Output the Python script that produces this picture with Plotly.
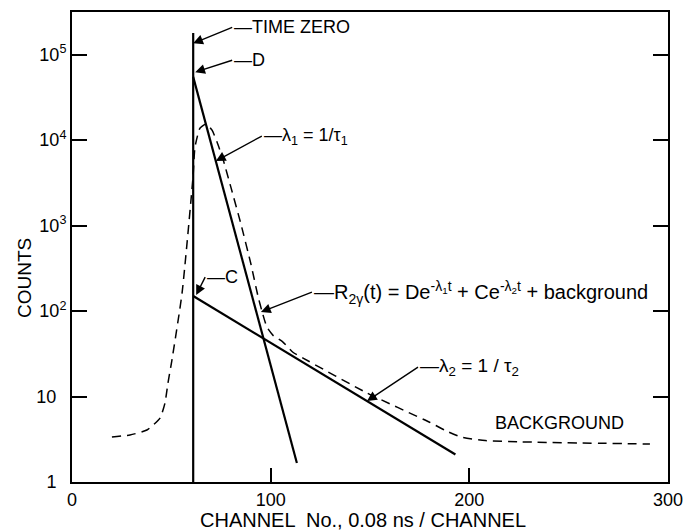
import math
import plotly.graph_objects as go

# ---- data ----
time_zero_ch = [61, 61]
time_zero_counts = [1, 1.8e5]

lam1_ch = [61, 113.2]
lam1_counts = [5.5e4, 1.67]

lam2_ch = [61, 193]
lam2_counts = [150, 2.1]

meas_ch = [20.1, 29.2, 37.7, 44.3, 46.8, 48.3, 50.3, 55.4, 60.9, 61.9, 64.4, 67.6,
           70.5, 73.0, 76.0, 80.0, 85.0, 90.0, 93.6, 95.6, 98.1, 101.2, 106.2, 111.2,
           116.3, 148.5, 180.0, 188.0, 196.0, 208.0, 225.0, 290.9]
meas_counts = [3.36, 3.55, 4.06, 5.6, 8.4, 14.4, 26.7, 162, 3690, 8280, 13800, 15500,
               13100, 9500, 6000, 2800, 1050, 360, 150, 100, 65, 52, 43.4, 33,
               28.2, 11, 5.0, 4.0, 3.35, 3.05, 2.95, 2.78]

x_ticks = [0, 100, 200, 300]
y_ticks = [1, 10, 100, 1e3, 1e4, 1e5]
y_ticktext = ["1\u00a0\u00a0", "10\u00a0\u00a0", "10<sup>2</sup>", "10<sup>3</sup>",
              "10<sup>4</sup>", "10<sup>5</sup>"]

FONT = "Liberation Sans, Arial, sans-serif"

fig = go.Figure()
fig.add_trace(go.Scatter(x=meas_ch, y=meas_counts, mode="lines",
                         line=dict(color="black", width=1.5, dash="9px,6px", shape="spline",
                                   smoothing=0.5),
                         hoverinfo="skip", showlegend=False))
fig.add_trace(go.Scatter(x=time_zero_ch, y=time_zero_counts, mode="lines",
                         line=dict(color="black", width=2.2), showlegend=False))
fig.add_trace(go.Scatter(x=lam1_ch, y=lam1_counts, mode="lines",
                         line=dict(color="black", width=2.2), showlegend=False))
fig.add_trace(go.Scatter(x=lam2_ch, y=lam2_counts, mode="lines",
                         line=dict(color="black", width=2.2), showlegend=False))

def arrow_ann(text, x, y, ax, ay, size=18):
    return dict(text=text, x=x, y=math.log10(y), ax=ax, ay=ay, xref="x", yref="y",
                showarrow=True, arrowhead=2, arrowsize=1.4, arrowwidth=1.4,
                arrowcolor="black", xanchor="left", yanchor="middle",
                font=dict(family=FONT, size=size, color="black"), borderpad=1)

annotations = [
    arrow_ann("\u2014TIME ZERO", 61, 1.36e5, 39, -16),
    arrow_ann("\u2014D", 62, 6.24e4, 37, -12),
    arrow_ann("\u2014\u03bb<sub>1</sub> = 1/\u03c4<sub>1</sub>", 72.4, 5.7e3, 46, -25),
    arrow_ann("\u2014C", 62.5, 154, 9, -18),
    arrow_ann("\u2014R<sub>2\u03b3</sub>(t) = De<sup>-\u03bb<sub>1</sub>t</sup> + "
              "Ce<sup>-\u03bb<sub>2</sub>t</sup> + background",
              95.1, 97.3, 51, -20, size=20),
    arrow_ann("\u2014\u03bb<sub>2</sub> = 1 / \u03c4<sub>2</sub>", 148.5, 8.85, 51, -34, size=19),
    dict(text="BACKGROUND", x=245.6, y=math.log10(4.9), xref="x", yref="y",
         showarrow=False, xanchor="center", yanchor="middle",
         font=dict(family=FONT, size=18, color="black")),
    dict(text="COUNTS", x=-0.0805, y=0.434, xref="paper", yref="paper", showarrow=False,
         xanchor="center", yanchor="middle",
         textangle=-90, font=dict(family=FONT, size=19, color="black")),
    dict(text="CHANNEL  No., 0.08 ns / CHANNEL", x=0.4875, y=-0.081, xref="paper",
         yref="paper", showarrow=False, xanchor="center", yanchor="middle",
         font=dict(family=FONT, size=20, color="black")),
]

fig.update_layout(
    width=687, height=531,
    margin=dict(l=72, r=19, t=12, b=49, autoexpand=False),
    paper_bgcolor="white", plot_bgcolor="white",
    showlegend=False,
    annotations=annotations,
    font=dict(family=FONT, size=18, color="black"),
)
fig.update_xaxes(range=[0, 300], tickvals=x_ticks, ticks="inside", ticklen=14, tickwidth=2,
                 tickcolor="black", showline=True, linecolor="black", linewidth=2,
                 mirror=True, showgrid=False, zeroline=False, automargin=False,
                 tickfont=dict(family=FONT, size=18, color="black"))
fig.update_yaxes(type="log", range=[0, 5.5], tickvals=y_ticks, ticktext=y_ticktext,
                 ticks="inside", ticklen=15, tickwidth=2, tickcolor="black",
                 showline=True, linecolor="black", linewidth=2, mirror="ticks",
                 showgrid=False, zeroline=False, automargin=False,
                 tickfont=dict(family=FONT, size=18, color="black"))

fig.write_html("out.html")
